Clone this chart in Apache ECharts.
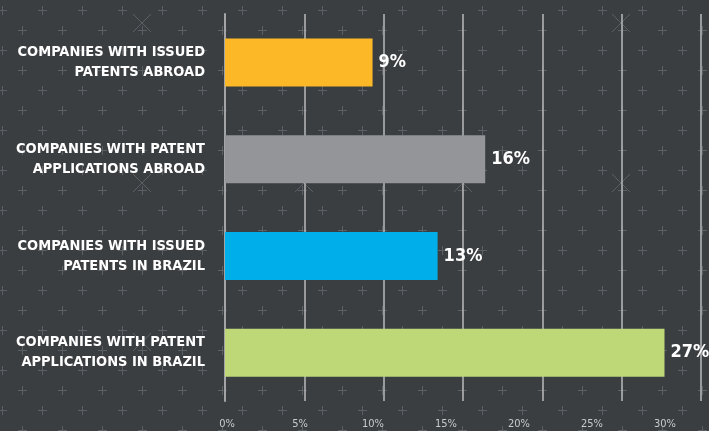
<!DOCTYPE html>
<html>
<head>
<meta charset="utf-8">
<script src="https://cdn.jsdelivr.net/npm/echarts@6/dist/echarts.min.js"></script>
<style>
  html, body { margin: 0; padding: 0; background: #3a3e41; }
  #chart { width: 709px; height: 431px; }
</style>
</head>
<body>
<div id="chart"></div>
<script>
// data
const categories = [
  'COMPANIES WITH ISSUED\nPATENTS ABROAD',
  'COMPANIES WITH PATENT\nAPPLICATIONS ABROAD',
  'COMPANIES WITH ISSUED\nPATENTS IN BRAZIL',
  'COMPANIES WITH PATENT\nAPPLICATIONS IN BRAZIL'
]
const values = [9.3, 16.4, 13.4, 27.7]
const valueLabels = ['9%', '16%', '13%', '27%']
const barColors = ['#fdb827', '#939598', '#00aeea', '#bed877']
const tickLabels = ['0%', '5%', '10%', '15%', '20%', '25%', '30%']

// background "+" pattern
const tile = document.createElement('canvas')
tile.width = 40
tile.height = 40
const ctx = tile.getContext('2d')
ctx.fillStyle = '#3a3e41'
ctx.fillRect(0, 0, 40, 40)
ctx.strokeStyle = '#5c6064'
ctx.lineWidth = 1
function plus(x, y) {
    ctx.beginPath()
    ctx.moveTo(x - 4, y + 0.5); ctx.lineTo(x + 5, y + 0.5)
    ctx.moveTo(x + 0.5, y - 4); ctx.lineTo(x + 0.5, y + 5)
    ctx.stroke()
}
plus(2, 10)
plus(22, 30)
plus(42, 10)

// big faint "x" marks
const xMarks = [[142, 23], [621, 23], [142, 183], [304, 183], [463, 183], [621, 183], [142, 342]]
const graphics = xMarks.map(p => ({
    type: 'group', x: p[0], y: p[1], z: -1,
    children: [
        { type: 'line', shape: { x1: -9, y1: -9, x2: 9, y2: 9 }, style: { stroke: '#5c6064', lineWidth: 1 } },
        { type: 'line', shape: { x1: -9, y1: 9, x2: 9, y2: -9 }, style: { stroke: '#5c6064', lineWidth: 1 } }
    ]
}))

const myChart = echarts.init(document.getElementById('chart'))
const option = {
    animation: false,
    backgroundColor: { image: tile, repeat: 'repeat' },
    graphic: graphics,
    grid: [
        { left: 225, right: 8, top: 14, bottom: 30 },
        { left: 227, right: 44, bottom: 20, height: 1 }
    ],
    xAxis: [
        {
            gridIndex: 0, type: 'value', min: 0, max: 30, interval: 5,
            axisLine: { show: false },
            axisTick: { show: false },
            axisLabel: { show: false },
            splitLine: { show: true, lineStyle: { color: '#b9babb', width: 1.5 } }
        },
        {
            gridIndex: 1, type: 'value', min: 0, max: 30, interval: 5,
            axisLine: { show: false },
            axisTick: { show: false },
            splitLine: { show: false },
            axisLabel: {
                margin: 8,
                color: '#c9cacb',
                fontFamily: 'DejaVu Sans Condensed',
                fontSize: 11,
                formatter: (v) => tickLabels[v / 5]
            }
        }
    ],
    yAxis: [
        {
            gridIndex: 0, type: 'category', data: categories, inverse: true,
            axisLine: { show: true, lineStyle: { color: '#a3a4a6', width: 2 } },
            axisTick: { show: false },
            axisLabel: {
                margin: 20,
                color: '#ffffff',
                fontFamily: 'DejaVu Sans Condensed',
                fontWeight: 'bold',
                fontSize: 14.5,
                lineHeight: 20,
                align: 'right'
            }
        },
        { gridIndex: 1, type: 'category', data: [''], show: false }
    ],
    series: [
        {
            type: 'bar',
            xAxisIndex: 0,
            yAxisIndex: 0,
            barWidth: 48,
            data: values.map((v, i) => ({ value: v, itemStyle: { color: barColors[i] } })),
            label: {
                show: true,
                position: 'right',
                distance: 6,
                color: '#ffffff',
                fontFamily: 'DejaVu Sans Condensed',
                fontWeight: 'bold',
                fontSize: 18,
                formatter: (p) => valueLabels[p.dataIndex]
            }
        }
    ]
}
myChart.setOption(option)
</script>
</body>
</html>
